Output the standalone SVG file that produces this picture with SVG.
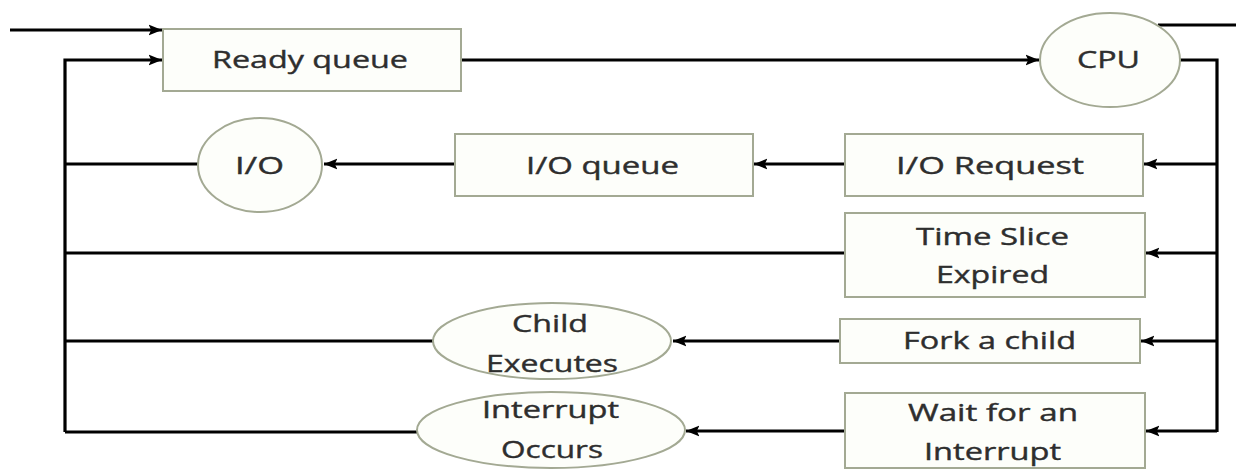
<svg xmlns="http://www.w3.org/2000/svg" width="1236" height="469" viewBox="0 0 1236 469">
<style>
.box{fill:#fdfefa;stroke:#a3a993;stroke-width:2}
.t{font-family:"Open Sans","Noto Sans",sans-serif;font-size:24px;fill:#2e2e2e;stroke:#2e2e2e;stroke-width:0.4}
.ln{fill:none;stroke:#000;stroke-width:3.2}
</style>
<defs>
<marker id="ah" viewBox="0 0 10 10" refX="10" refY="5" markerWidth="4.2" markerHeight="4.2" orient="auto" markerUnits="strokeWidth">
<path d="M0,1 L10,5 L0,9 L2,5 Z" fill="#000"/>
</marker>
</defs>
<rect width="1236" height="469" fill="#ffffff"/>
<g id="connectors">
<line class="ln" x1="10" y1="30" x2="162" y2="30" marker-end="url(#ah)"/>
<polyline class="ln" points="65,432 65,60 162,60" marker-end="url(#ah)"/>
<line class="ln" x1="461" y1="60" x2="1039" y2="60" marker-end="url(#ah)"/>
<line class="ln" x1="1158" y1="25" x2="1236" y2="25"/>
<polyline class="ln" points="1180,60 1217,60 1217,432"/>
<line class="ln" x1="1217" y1="164" x2="1144" y2="164" marker-end="url(#ah)"/>
<line class="ln" x1="1217" y1="253" x2="1146" y2="253" marker-end="url(#ah)"/>
<line class="ln" x1="1217" y1="341" x2="1141" y2="341" marker-end="url(#ah)"/>
<line class="ln" x1="1217" y1="431" x2="1146" y2="431" marker-end="url(#ah)"/>
<line class="ln" x1="845" y1="164" x2="754" y2="164" marker-end="url(#ah)"/>
<line class="ln" x1="455" y1="164" x2="324" y2="164" marker-end="url(#ah)"/>
<line class="ln" x1="198" y1="164" x2="65" y2="164"/>
<line class="ln" x1="845" y1="253" x2="65" y2="253"/>
<line class="ln" x1="840" y1="341" x2="673" y2="341" marker-end="url(#ah)"/>
<line class="ln" x1="433" y1="341" x2="65" y2="341"/>
<line class="ln" x1="845" y1="431" x2="686" y2="431" marker-end="url(#ah)"/>
<line class="ln" x1="417" y1="432" x2="65" y2="432"/>
</g>
<g id="ready-queue">
<rect class="box" x="163" y="29" width="298" height="62"/>
<text class="t" x="212" y="68" textLength="196" lengthAdjust="spacingAndGlyphs">Ready queue</text>
</g>
<g id="cpu">
<ellipse class="box" cx="1110" cy="60" rx="70" ry="47"/>
<text class="t" x="1077" y="68" textLength="63" lengthAdjust="spacingAndGlyphs">CPU</text>
</g>
<g id="io">
<ellipse class="box" cx="260" cy="165" rx="62" ry="47"/>
<text class="t" x="235" y="174" textLength="49" lengthAdjust="spacingAndGlyphs">I/O</text>
</g>
<g id="io-queue">
<rect class="box" x="455" y="134" width="298" height="62"/>
<text class="t" x="526" y="174" textLength="153" lengthAdjust="spacingAndGlyphs">I/O queue</text>
</g>
<g id="io-request">
<rect class="box" x="845" y="134" width="298" height="62"/>
<text class="t" x="896" y="174" textLength="188" lengthAdjust="spacingAndGlyphs">I/O Request</text>
</g>
<g id="time-slice">
<rect class="box" x="845" y="213" width="300" height="84"/>
<text class="t" x="916" y="245" textLength="153" lengthAdjust="spacingAndGlyphs">Time Slice</text>
<text class="t" x="936" y="283" textLength="113" lengthAdjust="spacingAndGlyphs">Expired</text>
</g>
<g id="fork">
<rect class="box" x="840" y="319" width="300" height="44"/>
<text class="t" x="903" y="349" textLength="173" lengthAdjust="spacingAndGlyphs">Fork a child</text>
</g>
<g id="wait">
<rect class="box" x="845" y="393" width="300" height="75"/>
<text class="t" x="908" y="421" textLength="170" lengthAdjust="spacingAndGlyphs">Wait for an</text>
<text class="t" x="924" y="460" textLength="137" lengthAdjust="spacingAndGlyphs">Interrupt</text>
</g>
<g id="child-executes">
<ellipse class="box" cx="552" cy="341" rx="119" ry="38"/>
<text class="t" x="512" y="332" textLength="76" lengthAdjust="spacingAndGlyphs">Child</text>
<text class="t" x="486" y="372" textLength="132" lengthAdjust="spacingAndGlyphs">Executes</text>
</g>
<g id="interrupt-occurs">
<ellipse class="box" cx="551" cy="430" rx="134" ry="38"/>
<text class="t" x="482" y="418" textLength="137" lengthAdjust="spacingAndGlyphs">Interrupt</text>
<text class="t" x="501" y="458" textLength="102" lengthAdjust="spacingAndGlyphs">Occurs</text>
</g>
</svg>
